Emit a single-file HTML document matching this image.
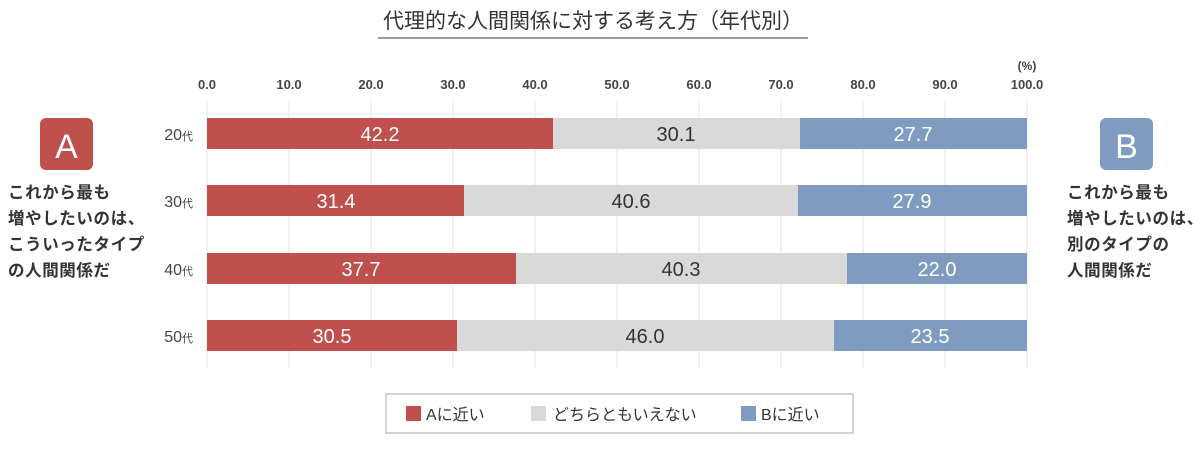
<!DOCTYPE html>
<html><head><meta charset="utf-8"><style>
body{margin:0;background:#fff}
svg text{font-family:"Liberation Sans","Noto Sans CJK JP",sans-serif}
</style></head><body>
<svg width="1200" height="447" viewBox="0 0 1200 447" xmlns="http://www.w3.org/2000/svg">
<rect width="1200" height="447" fill="#fff"/>
<text x="593" y="28" font-size="21" text-anchor="middle" fill="#333">代理的な人間関係に対する考え方（年代別）</text>
<line x1="378" y1="38" x2="808" y2="38" stroke="#777" stroke-width="1.5"/>
<g stroke="#e3e3e3" stroke-width="1">
<line x1="207" y1="100" x2="207" y2="368"/><line x1="289" y1="100" x2="289" y2="368"/><line x1="371" y1="100" x2="371" y2="368"/><line x1="453" y1="100" x2="453" y2="368"/><line x1="535" y1="100" x2="535" y2="368"/><line x1="617" y1="100" x2="617" y2="368"/><line x1="699" y1="100" x2="699" y2="368"/><line x1="781" y1="100" x2="781" y2="368"/><line x1="863" y1="100" x2="863" y2="368"/><line x1="945" y1="100" x2="945" y2="368"/><line x1="1027" y1="100" x2="1027" y2="368"/>
</g>
<g font-size="13" fill="#444" text-anchor="middle" font-weight="bold">
<text x="207" y="89">0.0</text><text x="289" y="89">10.0</text><text x="371" y="89">20.0</text><text x="453" y="89">30.0</text><text x="535" y="89">40.0</text><text x="617" y="89">50.0</text><text x="699" y="89">60.0</text><text x="781" y="89">70.0</text><text x="863" y="89">80.0</text><text x="945" y="89">90.0</text><text x="1027" y="89">100.0</text>
<text x="1027" y="70" font-size="12">(%)</text>
</g>
<g font-size="20">
<rect x="207" y="118" width="346" height="31" fill="#c0504d"/><rect x="553" y="118" width="247" height="31" fill="#d9d9d9"/><rect x="800" y="118" width="227" height="31" fill="#7f9cc0"/>
<text x="380" y="141" fill="#fff" text-anchor="middle">42.2</text><text x="676" y="141" fill="#333" text-anchor="middle">30.1</text><text x="913" y="141" fill="#fff" text-anchor="middle">27.7</text>
<rect x="207" y="185" width="257" height="31" fill="#c0504d"/><rect x="464" y="185" width="334" height="31" fill="#d9d9d9"/><rect x="798" y="185" width="229" height="31" fill="#7f9cc0"/>
<text x="336" y="208" fill="#fff" text-anchor="middle">31.4</text><text x="631" y="208" fill="#333" text-anchor="middle">40.6</text><text x="912" y="208" fill="#fff" text-anchor="middle">27.9</text>
<rect x="207" y="253" width="309" height="31" fill="#c0504d"/><rect x="516" y="253" width="331" height="31" fill="#d9d9d9"/><rect x="847" y="253" width="180" height="31" fill="#7f9cc0"/>
<text x="361" y="276" fill="#fff" text-anchor="middle">37.7</text><text x="681" y="276" fill="#333" text-anchor="middle">40.3</text><text x="937" y="276" fill="#fff" text-anchor="middle">22.0</text>
<rect x="207" y="320" width="250" height="31" fill="#c0504d"/><rect x="457" y="320" width="377" height="31" fill="#d9d9d9"/><rect x="834" y="320" width="193" height="31" fill="#7f9cc0"/>
<text x="332" y="343" fill="#fff" text-anchor="middle">30.5</text><text x="645" y="343" fill="#333" text-anchor="middle">46.0</text><text x="930" y="343" fill="#fff" text-anchor="middle">23.5</text>
</g>
<g font-size="16" fill="#444" text-anchor="end">
<text x="193" y="140">20<tspan font-size="11">代</tspan></text>
<text x="193" y="207">30<tspan font-size="11">代</tspan></text>
<text x="193" y="275">40<tspan font-size="11">代</tspan></text>
<text x="193" y="342">50<tspan font-size="11">代</tspan></text>
</g>
<rect x="40" y="118" width="53" height="52" rx="6" fill="#c0504d"/>
<text x="66.5" y="158" font-size="34" fill="#fff" text-anchor="middle">A</text>
<rect x="1100" y="118" width="53" height="52" rx="6" fill="#7f9cc0"/>
<text x="1126.5" y="158" font-size="34" fill="#fff" text-anchor="middle">B</text>
<g font-size="16.5" font-weight="bold" fill="#333" letter-spacing="0.6">
<text x="8" y="198">これから最も</text><text x="8" y="224">増やしたいのは、</text><text x="8" y="250">こういったタイプ</text><text x="8" y="276">の人間関係だ</text>
<text x="1067" y="198">これから最も</text><text x="1067" y="224">増やしたいのは、</text><text x="1067" y="250">別のタイプの</text><text x="1067" y="276">人間関係だ</text>
</g>
<rect x="386" y="394" width="467" height="39" fill="#fff" stroke="#aaa" stroke-width="1"/>
<rect x="406" y="406" width="15" height="15" fill="#c0504d"/>
<rect x="531" y="406" width="15" height="15" fill="#d9d9d9"/>
<rect x="741" y="406" width="15" height="15" fill="#7f9cc0"/>
<g font-size="16" fill="#333">
<text x="426" y="420">Aに近い</text><text x="553" y="420">どちらともいえない</text><text x="761" y="420">Bに近い</text>
</g>
</svg>
</body></html>
